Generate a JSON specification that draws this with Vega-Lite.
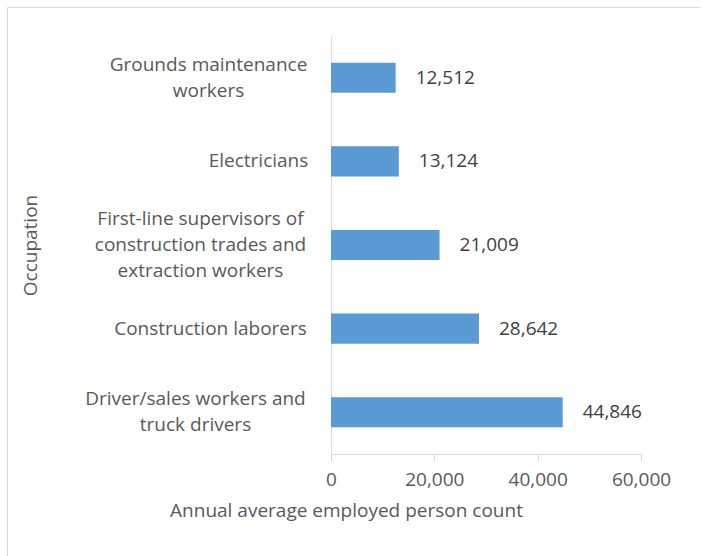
{
  "$schema": "https://vega.github.io/schema/vega-lite/v6.json",
  "autosize": "none",
  "padding": {"left": 7, "top": 7, "right": 0, "bottom": 0},
  "width": 693,
  "height": 560,
  "background": "white",
  "config": {
    "view": {"stroke": "#d9d9d9", "strokeWidth": 1},
    "font": "Open Sans",
    "axis": {"grid": false, "domainColor": "#d9d9d9", "tickColor": "#d9d9d9", "labelColor": "#595959", "titleColor": "#595959", "labelFont": "Open Sans", "titleFont": "Open Sans", "labelFontSize": 19, "titleFontSize": 19, "titleFontWeight": "normal"}
  },
  "data": {
    "values": [
      {"occupation": "Grounds maintenance workers", "count": 12512},
      {"occupation": "Electricians", "count": 13124},
      {"occupation": "First-line supervisors of construction trades and extraction workers", "count": 21009},
      {"occupation": "Construction laborers", "count": 28642},
      {"occupation": "Driver/sales workers and truck drivers", "count": 44846}
    ]
  },
  "encoding": {
    "y": {
      "field": "occupation",
      "type": "nominal",
      "sort": ["Grounds maintenance workers", "Electricians", "First-line supervisors of construction trades and extraction workers", "Construction laborers", "Driver/sales workers and truck drivers"],
      "scale": {"range": [29, 447], "paddingInner": 0.64, "paddingOuter": 0.32},
      "axis": {
        "title": "Occupation",
        "titleX": -301,
        "titleY": 238,
        "titleAngle": -90,
        "titleAlign": "center",
        "titleBaseline": "middle",
        "offset": -324,
        "ticks": false,
        "tickSize": 0,
        "labelLimit": 400,
        "labelLineHeight": 26,
        "labelAlign": "center",
        "labelBaseline": "middle",
        "labelPadding": {
          "condition": [
            {"test": "datum.value == 'Grounds maintenance workers'", "value": 123},
            {"test": "datum.value == 'Electricians'", "value": 73},
            {"test": "datum.value == 'First-line supervisors of construction trades and extraction workers'", "value": 131},
            {"test": "datum.value == 'Construction laborers'", "value": 121}
          ],
          "value": 136
        },
        "labelOffset": {
          "condition": [
            {"test": "datum.value == 'Grounds maintenance workers'", "value": -13},
            {"test": "datum.value == 'First-line supervisors of construction trades and extraction workers'", "value": -26},
            {"test": "datum.value == 'Driver/sales workers and truck drivers'", "value": -13}
          ],
          "value": 0
        },
        "labelExpr": "datum.value == 'Grounds maintenance workers' ? ['Grounds maintenance', 'workers'] : datum.value == 'First-line supervisors of construction trades and extraction workers' ? ['First-line supervisors of', 'construction trades and', 'extraction workers'] : datum.value == 'Driver/sales workers and truck drivers' ? ['Driver/sales workers and', 'truck drivers'] : datum.value"
      }
    },
    "x": {
      "field": "count",
      "type": "quantitative",
      "scale": {"domain": [0, 60000], "range": [324, 634], "nice": false},
      "axis": {
        "title": "Annual average employed person count",
        "titleX": 339,
        "titleY": 56,
        "titleAlign": "center",
        "titleBaseline": "middle",
        "offset": -113,
        "values": [0, 20000, 40000, 60000],
        "format": ",d",
        "tickSize": 7,
        "labelPadding": 9,
        "labelFlush": false
      }
    }
  },
  "layer": [
    {"mark": {"type": "bar", "color": "#5b9bd5"}},
    {
      "mark": {"type": "text", "align": "left", "baseline": "middle", "dx": 20, "fontSize": 19, "color": "#404040", "font": "Open Sans"},
      "encoding": {"text": {"field": "count", "type": "quantitative", "format": ","}}
    }
  ]
}
